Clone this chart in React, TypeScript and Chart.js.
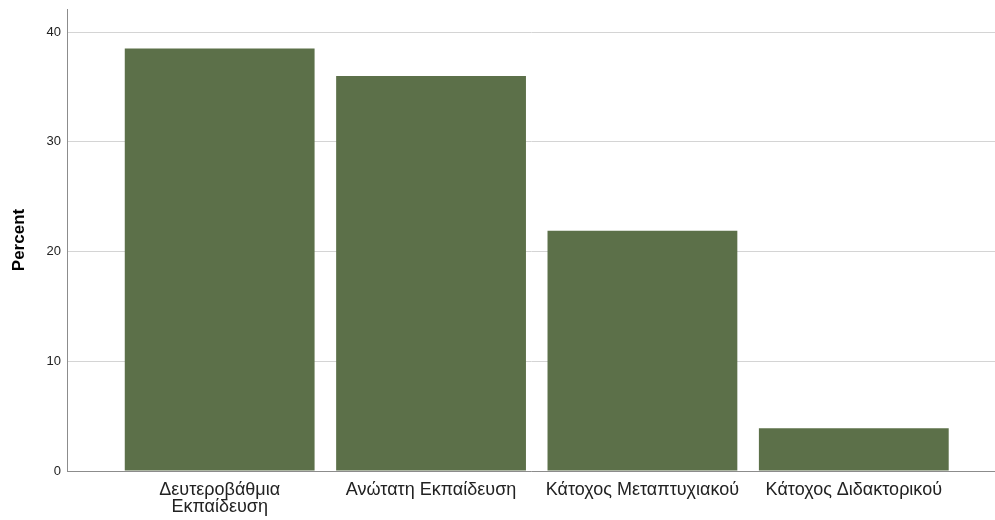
import React, { useEffect, useRef } from "react";
import { Chart, registerables } from "chart.js";

Chart.register(...registerables);

const categories: (string | string[])[] = [
  ["Δευτεροβάθμια", "Εκπαίδευση"],
  "Ανώτατη Εκπαίδευση",
  "Κάτοχος Μεταπτυχιακού",
  "Κάτοχος Διδακτορικού",
];
const positions = [1, 2, 3, 4];
const percents = [38.5, 36.0, 21.9, 3.9];
const yTicks = [0, 10, 20, 30, 40];

export default function App() {
  const ref = useRef<HTMLCanvasElement | null>(null);
  useEffect(() => {
    if (!ref.current) return;
    const font = "'Liberation Sans', Arial, sans-serif";
    const chart = new Chart(ref.current, {
      type: "bar",
      data: {
        datasets: [
          {
            data: positions.map((x, i) => ({ x, y: percents[i] })),
            backgroundColor: "#5c7049",
            borderWidth: 0,
            barPercentage: 0.898,
            categoryPercentage: 1,
          },
        ],
      },
      options: {
        animation: false,
        responsive: false,
        maintainAspectRatio: false,
        layout: { padding: { top: 9, left: 0, right: 0, bottom: 0 } },
        plugins: { legend: { display: false }, tooltip: { enabled: false } },
        scales: {
          x: {
            type: "linear",
            offset: false,
            min: 0.2777,
            max: 4.668,
            afterBuildTicks: (s: any) => {
              s.ticks = positions.map((v) => ({ value: v }));
            },
            afterFit: (s: any) => {
              s.height = 49;
              s.paddingLeft = 0;
              s.paddingRight = 0;
            },
            grid: { display: false, drawTicks: false },
            border: { display: true, color: "#8c8c8c", width: 1 },
            ticks: {
              autoSkip: false,
              maxRotation: 0,
              padding: 10,
              color: "#222",
              font: { family: font, size: 18, lineHeight: 0.98 },
              callback: (v: any) => {
                const i = positions.indexOf(Number(v));
                return i >= 0 ? (categories[i] as any) : "";
              },
            },
          },
          y: {
            type: "linear",
            min: 0,
            max: 42.1,
            afterBuildTicks: (s: any) => {
              s.ticks = yTicks.map((v) => ({ value: v }));
            },
            afterFit: (s: any) => {
              s.width = 67;
              s.paddingTop = 0;
              s.paddingBottom = 0;
            },
            grid: { color: "#d4d4d4", lineWidth: 1, drawTicks: false },
            border: { display: true, color: "#8c8c8c", width: 1 },
            ticks: {
              padding: 6,
              color: "#222",
              font: { family: font, size: 13 },
            },
            title: {
              display: true,
              text: "Percent",
              color: "#000",
              font: { family: font, size: 17, weight: "bold" },
              padding: { top: 9, bottom: 0 },
            },
          },
        },
      },
    });
    return () => chart.destroy();
  }, []);
  return (
    <div style={{ position: "fixed", left: 0, top: 0, width: 995, height: 520, background: "#fff" }}>
      <canvas ref={ref} width={995} height={520} style={{ width: 995, height: 520, display: "block" }} />
    </div>
  );
}
